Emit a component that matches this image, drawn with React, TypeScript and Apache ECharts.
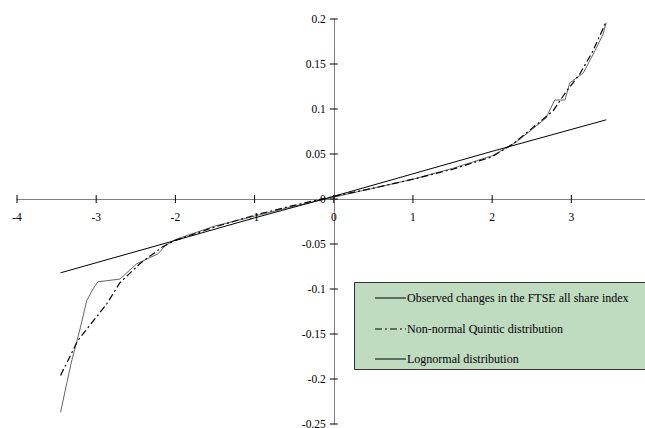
import React, { useEffect, useRef } from "react";
import * as echarts from "echarts";

// Quantiles (standard normal score) and returns
const observedX = [-3.45, -3.37, -3.31, -3.2, -3.12, -3.04, -2.98, -2.7, -2.49, -2.32, -2.22, -2.13, -2.0, -1.5, -1.0, -0.5, 0, 0.5, 1.0, 1.5, 2.0, 2.3, 2.5, 2.68, 2.79, 2.92, 2.98, 3.15, 3.3, 3.4, 3.44];
const observedY = [-0.237, -0.204, -0.18, -0.143, -0.113, -0.1, -0.092, -0.089, -0.072, -0.065, -0.061, -0.052, -0.045, -0.03, -0.019, -0.008, 0.002, 0.012, 0.022, 0.034, 0.048, 0.063, 0.077, 0.09, 0.11, 0.11, 0.129, 0.14, 0.165, 0.183, 0.196];

const quinticX = [-3.45, -3.23, -2.87, -2.7, -2.45, -2.16, -2.0, -1.5, -1.0, -0.5, 0, 0.5, 1.0, 1.5, 2.0, 2.26, 2.51, 2.77, 2.94, 3.1, 3.27, 3.44];
const quinticY = [-0.196, -0.157, -0.117, -0.093, -0.072, -0.053, -0.046, -0.031, -0.018, -0.007, 0.003, 0.012, 0.022, 0.033, 0.047, 0.061, 0.079, 0.098, 0.12, 0.138, 0.164, 0.197];

const lognormalX = [-3.45, -2.0, -1.0, 0, 1.0, 2.0, 3.44];
const lognormalY = [-0.082, -0.046, -0.021, 0.003, 0.028, 0.053, 0.088];

const xTicks = [-4, -3, -2, -1, 0, 1, 2, 3];
const yTicks = [-0.25, -0.2, -0.15, -0.1, -0.05, 0, 0.05, 0.1, 0.15, 0.2];

const legendNames = [
  "Observed changes in the FTSE all share index",
  "Non-normal Quintic distribution",
  "Lognormal distribution",
];

const FONT = "Liberation Serif";

const pairs = (xs: number[], ys: number[]) => xs.map((x, i) => [x, ys[i]]);

export default function App() {
  const ref = useRef<HTMLDivElement>(null);
  useEffect(() => {
    if (!ref.current) return;
    const chart = echarts.init(ref.current, null, { renderer: "svg" });
    const axisColor = "#808080";
    const dashDot = [7, 3, 2, 3];
    const legendRows = [298, 329, 359];
    const legendStyles = [
      { stroke: "#000", lineWidth: 1 },
      { stroke: "#000", lineWidth: 1.2, lineDash: dashDot },
      { stroke: "#000", lineWidth: 1 },
    ];
    const graphics: any[] = [
      {
        type: "rect",
        shape: { x: 354.5, y: 282.5, width: 300, height: 87 },
        style: { fill: "#c0dcc0", stroke: "#333", lineWidth: 1 },
        z: 10,
      },
    ];
    legendNames.forEach((name, i) => {
      graphics.push({
        type: "line",
        shape: { x1: 375, y1: legendRows[i], x2: 406, y2: legendRows[i] },
        style: legendStyles[i],
        z: 11,
      });
      graphics.push({
        type: "text",
        x: 407,
        y: legendRows[i],
        style: {
          text: name,
          fontFamily: FONT,
          fontSize: 12,
          fill: "#000",
          verticalAlign: "middle",
          align: "left",
        },
        z: 11,
      });
    });

    // tick marks crossing the axes, with their labels (placed through the axis scales)
    const tickData = [
      ...xTicks.map((v) => [v, 0, 0]),
      ...yTicks.map((v) => [0, v, 1]),
    ];

    chart.setOption({
      animation: false,
      grid: { left: 17, right: 0, top: 19, bottom: 4, containLabel: false, outerBoundsMode: "none" },
      xAxis: {
        type: "value",
        min: -4,
        max: 3.93,
        interval: 1,
        splitLine: { show: false },
        axisLine: { onZero: true, lineStyle: { color: axisColor, width: 1 } },
        axisTick: { show: false },
        axisLabel: { show: false },
      },
      yAxis: {
        type: "value",
        min: -0.25,
        max: 0.2,
        interval: 0.05,
        splitLine: { show: false },
        axisLine: { onZero: true, lineStyle: { color: axisColor, width: 1 } },
        axisTick: { show: false },
        axisLabel: { show: false },
      },
      series: [
        {
          name: legendNames[0],
          type: "line",
          data: pairs(observedX, observedY),
          showSymbol: false,
          symbol: "none",
          lineStyle: { color: "#555", width: 0.9 },
          z: 3,
        },
        {
          name: legendNames[1],
          type: "line",
          data: pairs(quinticX, quinticY),
          showSymbol: false,
          symbol: "none",
          lineStyle: { color: "#000", width: 1.2, type: dashDot },
          z: 4,
        },
        {
          name: legendNames[2],
          type: "line",
          data: pairs(lognormalX, lognormalY),
          showSymbol: false,
          symbol: "none",
          lineStyle: { color: "#000", width: 1 },
          z: 5,
        },
        {
          type: "custom",
          silent: true,
          clip: false,
          z: 6,
          data: tickData,
          renderItem: (params: any, api: any) => {
            const xv = api.value(0);
            const yv = api.value(1);
            const p = api.coord([xv, yv]);
            const vertical = api.value(2) === 0;
            const label = String(vertical ? xv : yv);
            return {
              type: "group",
              children: [
                {
                  type: "line",
                  shape: vertical
                    ? { x1: p[0], y1: p[1] - 4, x2: p[0], y2: p[1] + 4 }
                    : { x1: p[0] - 4, y1: p[1], x2: p[0] + 4, y2: p[1] },
                  style: { stroke: "#000", lineWidth: 1 },
                },
                {
                  type: "text",
                  x: vertical ? p[0] : p[0] - 8,
                  y: vertical ? p[1] + 12 : p[1],
                  style: {
                    text: label,
                    fontFamily: FONT,
                    fontSize: 11.5,
                    fill: "#000",
                    align: vertical ? "center" : "right",
                    verticalAlign: vertical ? "top" : "middle",
                  },
                },
              ],
            };
          },
        },
      ],
      graphic: graphics,
    });
    return () => chart.dispose();
  }, []);
  return (
    <div
      ref={ref}
      style={{ position: "fixed", left: 0, top: 0, width: 645, height: 428, background: "#fff" }}
    />
  );
}
